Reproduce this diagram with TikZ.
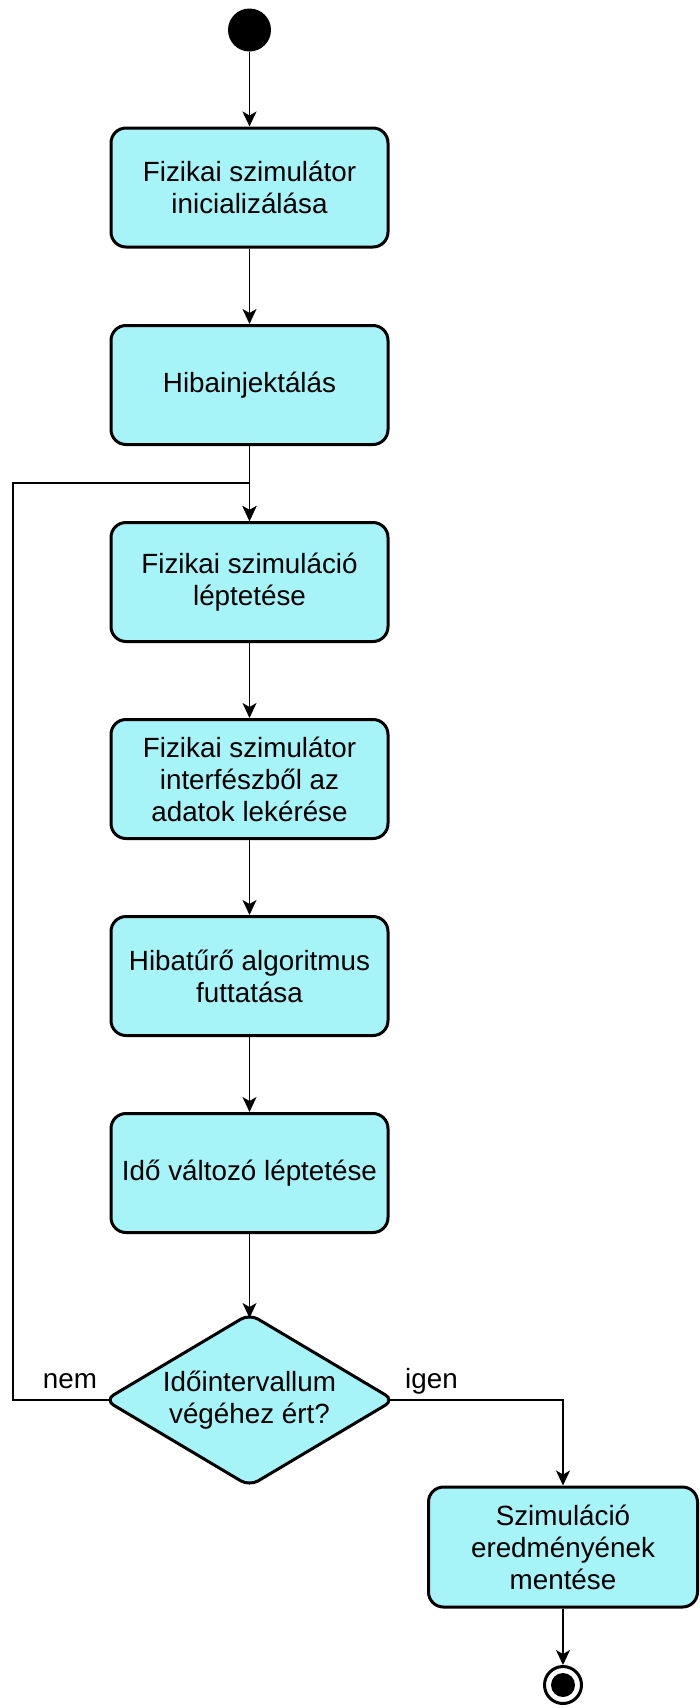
\documentclass[tikz,border=0pt]{standalone}
\usepackage{fontspec}
\setmainfont{Liberation Sans}
\usetikzlibrary{shapes.geometric,arrows.meta}
\definecolor{actfill}{HTML}{A6F3F8}
\begin{document}
\begin{tikzpicture}[x=1pt,y=1pt,
  actbox/.style={draw=black,line width=3pt,fill=actfill,rounded corners=15pt,
    minimum width=277pt,minimum height=119pt,align=center,inner sep=0pt,
    font=\fontsize{27.8}{32}\selectfont},
  decbox/.style={draw=black,line width=3pt,fill=actfill,diamond,rounded corners=10pt,
    minimum width=289pt,minimum height=172pt,inner sep=0pt,outer sep=0pt},
  conn/.style={line width=1.5pt,-{Stealth[length=15pt,width=14pt,inset=4pt]}},
  plain/.style={line width=1.5pt},
  lbl/.style={font=\fontsize{27.8}{32}\selectfont,inner sep=0pt}]
\useasboundingbox (0,0) rectangle (699,-1708);
\node[circle,fill=black,minimum size=43pt,inner sep=0pt] (start) at (249.5,-30) {};
\node[actbox] (b1) at (249.5,-187.5) {Fizikai szimulátor\\inicializálása};
\node[actbox] (b2) at (249.5,-385) {Hibainjektálás};
\node[actbox] (b3) at (249.5,-582) {Fizikai szimuláció\\léptetése};
\node[actbox] (b4) at (249.5,-779) {Fizikai szimulátor\\interfészből az\\adatok lekérése};
\node[actbox] (b5) at (249.5,-976) {Hibatűrő algoritmus\\futtatása};
\node[actbox] (b6) at (249.5,-1173) {Idő változó léptetése};
\node[decbox] (dec) at (249.5,-1400) {};
\node[align=center,font=\fontsize{27.8}{32}\selectfont,inner sep=0pt] (dect) at (249.5,-1400) {Időintervallum\\végéhez ért?};
\node[actbox,minimum width=269pt,minimum height=120pt] (b7) at (563,-1547) {Szimuláció\\eredményének\\mentése};
\node[circle,draw=black,line width=3pt,minimum size=37pt,inner sep=0pt] (endo) at (563,-1685) {};
\node[circle,fill=black,minimum size=24pt,inner sep=0pt] (endi) at (563,-1685) {};
\draw[conn] (start) -- (b1);
\draw[conn] (b1) -- (b2);
\draw[conn] (b2) -- (b3);
\draw[conn] (b3) -- (b4);
\draw[conn] (b4) -- (b5);
\draw[conn] (b5) -- (b6);
\draw[conn] (b6) -- ([yshift=-4pt]dec.north);
\coordinate (lp1) at (13,-1400);
\coordinate (lp2) at (13,-483);
\coordinate (lp3) at (249.5,-483);
\draw[plain] ([xshift=6pt]dec.west) -- (lp1) -- (lp2) -- (lp3);
\draw[conn] (lp3) -- (b3.north);
\draw[conn] ([xshift=-6pt]dec.east) -| (b7.north);
\draw[conn] (b7) -- (endo);
\node[lbl] (nem) at (70,-1381) {nem};
\node[lbl,anchor=west] (igen) at (405,-1381) {igen};
\end{tikzpicture}
\end{document}
